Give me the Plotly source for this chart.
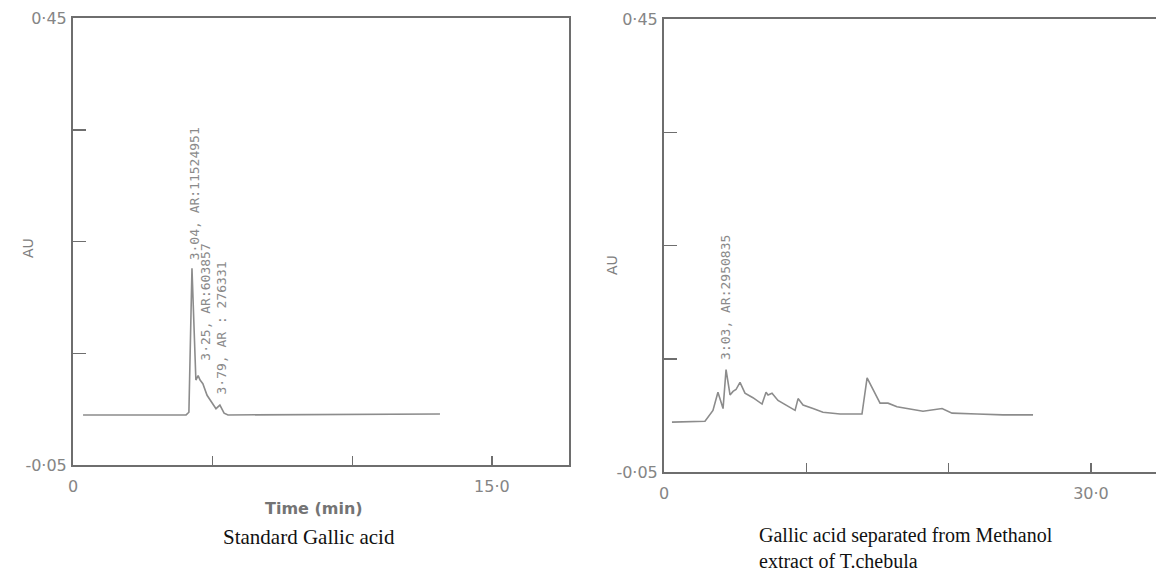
import plotly.graph_objects as go

# ---- data ----
std_time = [0.36, 4.05, 4.15, 4.26, 4.40, 4.48, 4.55, 4.65, 4.80, 4.98, 5.12, 5.26, 5.41, 5.55, 13.14]
std_au = [0.006, 0.006, 0.009, 0.170, 0.045, 0.050, 0.045, 0.041, 0.028, 0.019, 0.013, 0.017, 0.008, 0.006, 0.007]

ext_time = [0.56, 2.88, 3.44, 3.79, 4.15, 4.36, 4.64, 4.85, 5.06, 5.34, 5.69, 6.25, 6.89, 7.17, 7.31,
            7.59, 8.01, 8.64, 9.21, 9.42, 9.77, 10.47, 11.17, 12.37, 13.91, 14.27, 15.18, 15.74,
            16.37, 17.08, 18.20, 19.54, 20.24, 22.00, 23.82, 25.93]
ext_au = [0.005, 0.006, 0.018, 0.038, 0.020, 0.063, 0.035, 0.039, 0.041, 0.049, 0.037, 0.032, 0.025,
          0.038, 0.035, 0.037, 0.029, 0.023, 0.018, 0.031, 0.024, 0.020, 0.016, 0.014, 0.014, 0.054,
          0.026, 0.026, 0.022, 0.020, 0.017, 0.020, 0.015, 0.014, 0.013, 0.013]

std_peaks_time = [4.36, 4.73, 5.33]
std_peaks_au = [0.177, 0.064, 0.027]
std_peaks_text = ["3·04, AR:11524951", "3·25, AR:603857", "3·79, AR : 276331"]

ext_peaks_time = [4.36]
ext_peaks_au = [0.071]
ext_peaks_text = ["3:03, AR:2950835"]

y_ticks = [-0.05, 0.075, 0.2, 0.325, 0.45]
y_ticktext = ["-0·05", "", "", "", "0·45"]
x1_ticks = [0, 5, 10, 15]
x1_ticktext = ["0", "", "", "15·0"]
x2_ticks = [0, 10, 20, 30]
x2_ticktext = ["0", "", "", "30·0"]

W, H = 1156, 575
AXIS_COL = "#6e6e6e"
LINE_COL = "#8c8c8c"
TICK_FONT = dict(family="DejaVu Sans", size=16, color="#858585")

fig = go.Figure()
fig.add_trace(go.Scatter(x=std_time, y=std_au, mode="lines", xaxis="x", yaxis="y",
                         line=dict(color=LINE_COL, width=1.6), showlegend=False, hoverinfo="skip"))
fig.add_trace(go.Scatter(x=ext_time, y=ext_au, mode="lines", xaxis="x2", yaxis="y2",
                         line=dict(color=LINE_COL, width=1.6), showlegend=False, hoverinfo="skip"))

def xax(domain, rng, tv, tt, anchor, mirror):
    return dict(domain=domain, range=rng, tickvals=tv, ticktext=tt, ticks="inside", ticklen=9,
                tickwidth=1.5, tickcolor=AXIS_COL, showline=True, linecolor=AXIS_COL, linewidth=2,
                mirror=mirror, showgrid=False, zeroline=False, anchor=anchor, tickfont=TICK_FONT,
                ticklabelstandoff=6, automargin=False, fixedrange=True)

def yax(domain, anchor, mirror):
    return dict(domain=domain, range=[-0.05, 0.45], tickvals=y_ticks, ticktext=y_ticktext,
                ticks="inside", ticklen=13, tickwidth=1.5, tickcolor=AXIS_COL, showline=True,
                linecolor=AXIS_COL, linewidth=2, mirror=mirror, showgrid=False, zeroline=False,
                anchor=anchor, tickfont=TICK_FONT, ticklabelstandoff=1, automargin=False,
                fixedrange=True)

PEAK_FONT = dict(family="DejaVu Sans Mono", size=13, color="#8a8a8a")
ann = []
for t, a, s in zip(std_peaks_time, std_peaks_au, std_peaks_text):
    ann.append(dict(x=t, y=a, xref="x", yref="y", text=s, showarrow=False, textangle=-90,
                    xanchor="center", yanchor="bottom", font=PEAK_FONT))
for t, a, s in zip(ext_peaks_time, ext_peaks_au, ext_peaks_text):
    ann.append(dict(x=t, y=a, xref="x2", yref="y2", text=s, showarrow=False, textangle=-90,
                    xanchor="center", yanchor="bottom", font=PEAK_FONT))

ann += [
    dict(x=28 / W, y=1 - 248 / H, xref="paper", yref="paper", text="AU", showarrow=False,
         textangle=-90, xanchor="center", yanchor="middle",
         font=dict(family="DejaVu Sans", size=14, color="#808080")),
    dict(x=612 / W, y=1 - 265 / H, xref="paper", yref="paper", text="AU", showarrow=False,
         textangle=-90, xanchor="center", yanchor="middle",
         font=dict(family="DejaVu Sans", size=14, color="#808080")),
    dict(x=314 / W, y=1 - 508 / H, xref="paper", yref="paper", text="<b>Time (min)</b>",
         showarrow=False, xanchor="center", yanchor="middle",
         font=dict(family="DejaVu Sans", size=16, color="#747474")),
    dict(x=309 / W, y=1 - 537 / H, xref="paper", yref="paper", text="Standard Gallic acid",
         showarrow=False, xanchor="center", yanchor="middle",
         font=dict(family="Liberation Serif", size=21, color="#111111")),
    dict(x=757 / W, y=1 - 574 / H, xref="paper", yref="paper",
         text="Gallic acid separated from Methanol<br>extract of T.chebula", showarrow=False,
         xanchor="left", yanchor="bottom", align="left",
         font=dict(family="Liberation Serif", size=20, color="#111111")),
]

fig.update_layout(
    width=W, height=H, margin=dict(l=0, r=0, t=0, b=0, autoexpand=False),
    paper_bgcolor="white", plot_bgcolor="white", hovermode=False,
    xaxis=xax([73 / W, 569 / W], [0, 17.76], x1_ticks, x1_ticktext, "y", True),
    yaxis=yax([1 - 465 / H, 1 - 18 / H], "x", True),
    xaxis2=xax([664 / W, 1.0], [0, 34.57], x2_ticks, x2_ticktext, "y2", True),
    yaxis2=yax([1 - 472 / H, 1 - 19 / H], "x2", False),
    annotations=ann,
)

fig.write_html("out.html", config={"displayModeBar": False, "staticPlot": True},
               post_script="document.body.style.margin='0';document.body.style.overflow='hidden';")
